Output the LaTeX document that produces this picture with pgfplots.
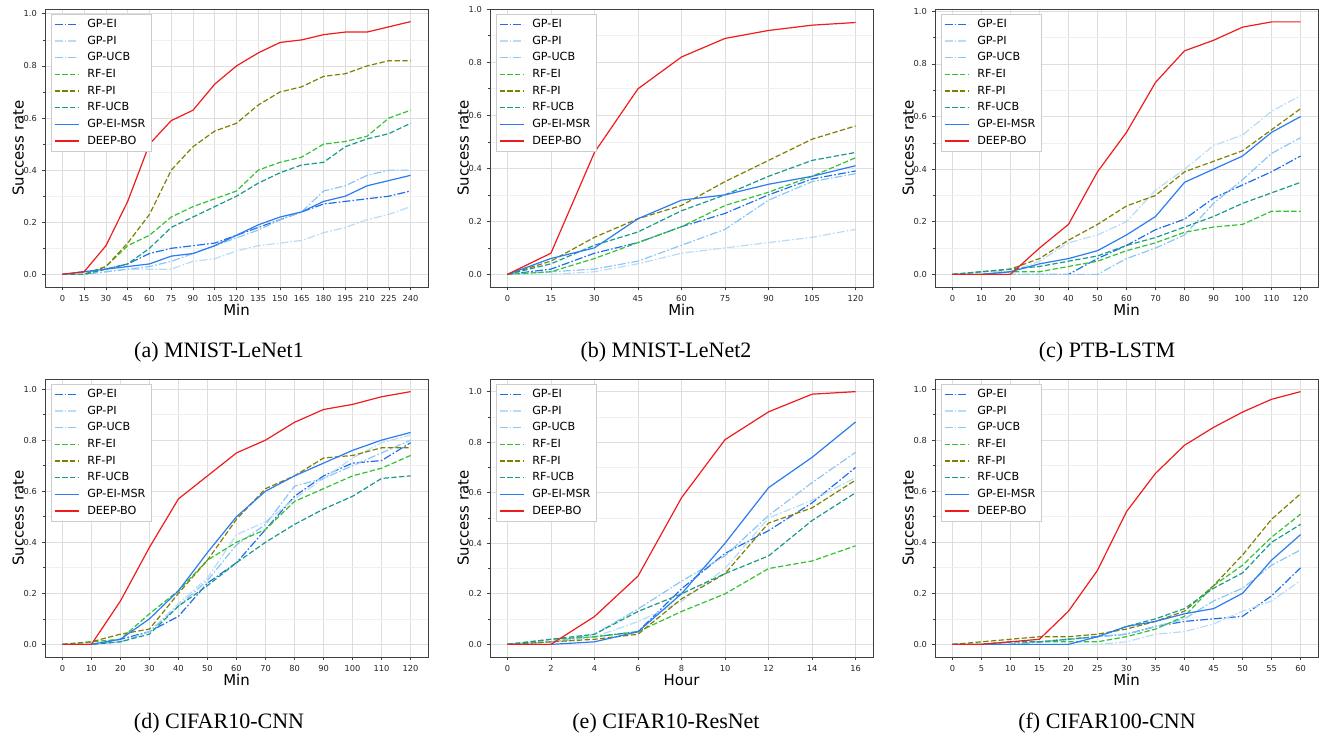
\documentclass[border=0pt]{standalone}
\usepackage{pgfplots}
\pgfplotsset{compat=1.18}
\usepackage{fontspec}
\setmainfont{Liberation Serif}
\setsansfont{DejaVu Sans}

\definecolor{cgpei}{HTML}{1F6FEB}
\definecolor{cgppi}{HTML}{B8DCF8}
\definecolor{cgpucb}{HTML}{8CC6F4}
\definecolor{crfei}{HTML}{33C233}
\definecolor{crfpi}{HTML}{808000}
\definecolor{crfucb}{HTML}{1A9A8A}
\definecolor{cmsr}{HTML}{2B7BF2}
\definecolor{cdeep}{HTML}{EE1C1C}

\pgfplotsset{
  legend image code/.code={\draw[#1, line width=1pt] (0pt,0pt) -- (18pt,0pt);},
  sub/.style={
    width=287.25pt, height=208.5pt, scale only axis,
    anchor=north west,
    axis line style={color=black!75, line width=0.6pt},
    tick style={color=black!75, line width=0.5pt},
    tick align=outside, xtick pos=lower, ytick pos=left,
    major tick length=2.6pt, minor tick length=1.5pt,
    ytick={0,0.2,0.4,0.6,0.8,1}, yticklabels={0.0,0.2,0.4,0.6,0.8,1.0},
    minor ytick={0.1,0.3,0.5,0.7,0.9},
    xmajorgrids, ymajorgrids, yminorgrids,
    major grid style={color=black!13, line width=0.6pt},
    minor grid style={color=black!6, line width=0.5pt},
    /pgf/number format/assume math mode=true,
    ticklabel style={font=\sffamily\fontsize{6.2}{7}\selectfont, color=black!85},
    label style={font=\sffamily\fontsize{11.2}{13}\selectfont},
    ylabel={Success rate}, xlabel={Min},
    xlabel style={at={(axis description cs:0.5,-0.083)}, anchor=center},
    ylabel style={at={(axis description cs:-0.07,0.5)}, anchor=center},
    legend style={at={(0,1)}, anchor=north west, xshift=4.5pt, yshift=-3.75pt,
      draw=black!20, fill=white,
      font=\sffamily\fontsize{8.4}{10}\selectfont,
      row sep=0.8pt, column sep=4pt, inner xsep=2pt, inner ysep=1.7pt},
    legend cell align=left,
    no markers,
  },
  gpei/.style={draw=cgpei, color=cgpei, line width=0.9pt, dash pattern=on 6pt off 1.6pt on 1.2pt off 1.6pt},
  gppi/.style={draw=cgppi, color=cgppi, line width=0.9pt, dash pattern=on 6pt off 1.6pt on 1.2pt off 1.6pt},
  gpucb/.style={draw=cgpucb, color=cgpucb, line width=0.9pt, dash pattern=on 6pt off 1.6pt on 1.2pt off 1.6pt},
  rfei/.style={draw=crfei, color=crfei, line width=0.9pt, dash pattern=on 4pt off 1.8pt},
  rfpi/.style={draw=crfpi, color=crfpi, line width=0.9pt, dash pattern=on 4pt off 1.8pt},
  rfucb/.style={draw=crfucb, color=crfucb, line width=0.9pt, dash pattern=on 4pt off 1.8pt},
  msr/.style={draw=cmsr, color=cmsr, line width=0.9pt},
  deep/.style={draw=cdeep, color=cdeep, line width=0.9pt},
}

\newcommand{\legendall}{%
  \addlegendentry{GP-EI}\addlegendentry{GP-PI}\addlegendentry{GP-UCB}%
  \addlegendentry{RF-EI}\addlegendentry{RF-PI}\addlegendentry{RF-UCB}%
  \addlegendentry{GP-EI-MSR}\addlegendentry{DEEP-BO}}

\begin{document}
\begin{tikzpicture}
\path (0pt,0pt) rectangle (996.75pt,-553.5pt);

% (a) MNIST-LeNet1
\begin{axis}[sub, at={(33.75pt,-6.75pt)},
  xmin=-12, xmax=252, ymin=-0.0485, ymax=1.0185,
  xtick={0,15,30,45,60,75,90,105,120,135,150,165,180,195,210,225,240}]
\addplot[gpei] coordinates {(0,0)(15,0.01)(30,0.02)(45,0.04)(60,0.08)(75,0.10)(90,0.11)(105,0.12)(120,0.15)(135,0.18)(150,0.21)(165,0.24)(180,0.27)(195,0.28)(210,0.29)(225,0.30)(240,0.32)};
\addplot[gppi] coordinates {(0,0)(15,0.00)(30,0.01)(45,0.02)(60,0.02)(75,0.02)(90,0.05)(105,0.06)(120,0.09)(135,0.11)(150,0.12)(165,0.13)(180,0.16)(195,0.18)(210,0.21)(225,0.23)(240,0.26)};
\addplot[gpucb] coordinates {(0,0)(15,0.00)(30,0.01)(45,0.02)(60,0.03)(75,0.05)(90,0.08)(105,0.11)(120,0.14)(135,0.17)(150,0.21)(165,0.24)(180,0.32)(195,0.34)(210,0.38)(225,0.40)(240,0.40)};
\addplot[rfei] coordinates {(0,0)(15,0.00)(30,0.03)(45,0.11)(60,0.15)(75,0.22)(90,0.26)(105,0.29)(120,0.32)(135,0.40)(150,0.43)(165,0.45)(180,0.50)(195,0.51)(210,0.53)(225,0.60)(240,0.63)};
\addplot[rfpi] coordinates {(0,0)(15,0.00)(30,0.03)(45,0.12)(60,0.23)(75,0.40)(90,0.49)(105,0.55)(120,0.58)(135,0.65)(150,0.70)(165,0.72)(180,0.76)(195,0.77)(210,0.80)(225,0.82)(240,0.82)};
\addplot[rfucb] coordinates {(0,0)(15,0.00)(30,0.02)(45,0.04)(60,0.10)(75,0.18)(90,0.22)(105,0.26)(120,0.30)(135,0.35)(150,0.39)(165,0.42)(180,0.43)(195,0.49)(210,0.52)(225,0.54)(240,0.58)};
\addplot[msr] coordinates {(0,0)(15,0.01)(30,0.02)(45,0.03)(60,0.04)(75,0.07)(90,0.08)(105,0.11)(120,0.15)(135,0.19)(150,0.22)(165,0.24)(180,0.28)(195,0.30)(210,0.34)(225,0.36)(240,0.38)};
\addplot[deep] coordinates {(0,0)(15,0.01)(30,0.11)(45,0.28)(60,0.50)(75,0.59)(90,0.63)(105,0.73)(120,0.80)(135,0.85)(150,0.89)(165,0.90)(180,0.92)(195,0.93)(210,0.93)(225,0.95)(240,0.97)};
\legendall
\end{axis}

% (b) MNIST-LeNet2
\begin{axis}[sub, at={(367.5pt,-6.75pt)},
  xmin=-6, xmax=126, ymin=-0.0475, ymax=1.001,
  xtick={0,15,30,45,60,75,90,105,120}]
\addplot[gpei] coordinates {(0,0)(15,0.02)(30,0.08)(45,0.12)(60,0.18)(75,0.23)(90,0.30)(105,0.36)(120,0.39)};
\addplot[gppi] coordinates {(0,0)(15,0.00)(30,0.01)(45,0.04)(60,0.08)(75,0.10)(90,0.12)(105,0.14)(120,0.17)};
\addplot[gpucb] coordinates {(0,0)(15,0.01)(30,0.02)(45,0.05)(60,0.11)(75,0.17)(90,0.28)(105,0.35)(120,0.38)};
\addplot[rfei] coordinates {(0,0)(15,0.01)(30,0.06)(45,0.12)(60,0.18)(75,0.26)(90,0.31)(105,0.37)(120,0.44)};
\addplot[rfpi] coordinates {(0,0)(15,0.05)(30,0.14)(45,0.21)(60,0.26)(75,0.35)(90,0.43)(105,0.51)(120,0.56)};
\addplot[rfucb] coordinates {(0,0)(15,0.04)(30,0.11)(45,0.16)(60,0.24)(75,0.30)(90,0.37)(105,0.43)(120,0.46)};
\addplot[msr] coordinates {(0,0)(15,0.06)(30,0.10)(45,0.21)(60,0.28)(75,0.30)(90,0.34)(105,0.37)(120,0.41)};
\addplot[deep] coordinates {(0,0)(15,0.08)(30,0.46)(45,0.70)(60,0.82)(75,0.89)(90,0.92)(105,0.94)(120,0.95)};
\legendall
\end{axis}

% (c) PTB-LSTM
\begin{axis}[sub, at={(701.25pt,-6.75pt)},
  xmin=-6, xmax=126, ymin=-0.048, ymax=1.009,
  xtick={0,10,20,30,40,50,60,70,80,90,100,110,120}]
\addplot[gpei] coordinates {(0,0)(10,0)(20,0)(30,0)(40,0)(50,0.06)(60,0.11)(70,0.17)(80,0.21)(90,0.29)(100,0.34)(110,0.39)(120,0.45)};
\addplot[gppi] coordinates {(0,0)(10,0.01)(20,0.01)(30,0.05)(40,0.12)(50,0.15)(60,0.20)(70,0.32)(80,0.40)(90,0.49)(100,0.53)(110,0.62)(120,0.68)};
\addplot[gpucb] coordinates {(0,0)(10,0)(20,0)(30,0)(40,0)(50,0)(60,0.06)(70,0.10)(80,0.15)(90,0.27)(100,0.36)(110,0.46)(120,0.52)};
\addplot[rfei] coordinates {(0,0)(10,0)(20,0.01)(30,0.01)(40,0.03)(50,0.05)(60,0.09)(70,0.12)(80,0.16)(90,0.18)(100,0.19)(110,0.24)(120,0.24)};
\addplot[rfpi] coordinates {(0,0)(10,0.01)(20,0.02)(30,0.06)(40,0.13)(50,0.19)(60,0.26)(70,0.30)(80,0.39)(90,0.43)(100,0.47)(110,0.55)(120,0.63)};
\addplot[rfucb] coordinates {(0,0)(10,0.01)(20,0.02)(30,0.03)(40,0.05)(50,0.07)(60,0.11)(70,0.14)(80,0.18)(90,0.22)(100,0.27)(110,0.31)(120,0.35)};
\addplot[msr] coordinates {(0,0)(10,0)(20,0.01)(30,0.04)(40,0.06)(50,0.09)(60,0.15)(70,0.22)(80,0.35)(90,0.40)(100,0.45)(110,0.54)(120,0.60)};
\addplot[deep] coordinates {(0,0)(10,0)(20,0)(30,0.10)(40,0.19)(50,0.39)(60,0.54)(70,0.73)(80,0.85)(90,0.89)(100,0.94)(110,0.96)(120,0.96)};
\legendall
\end{axis}

% (d) CIFAR10-CNN
\begin{axis}[sub, at={(33.75pt,-284.25pt)},
  xmin=-6, xmax=126, ymin=-0.0495, ymax=1.0395,
  xtick={0,10,20,30,40,50,60,70,80,90,100,110,120}]
\addplot[gpei] coordinates {(0,0)(10,0)(20,0.02)(30,0.05)(40,0.11)(50,0.24)(60,0.32)(70,0.45)(80,0.58)(90,0.66)(100,0.71)(110,0.72)(120,0.79)};
\addplot[gppi] coordinates {(0,0)(10,0)(20,0.01)(30,0.05)(40,0.16)(50,0.26)(60,0.43)(70,0.48)(80,0.57)(90,0.65)(100,0.73)(110,0.79)(120,0.82)};
\addplot[gpucb] coordinates {(0,0)(10,0)(20,0.01)(30,0.05)(40,0.15)(50,0.25)(60,0.39)(70,0.47)(80,0.62)(90,0.65)(100,0.70)(110,0.75)(120,0.80)};
\addplot[rfei] coordinates {(0,0)(10,0.01)(20,0.02)(30,0.12)(40,0.21)(50,0.33)(60,0.40)(70,0.45)(80,0.56)(90,0.61)(100,0.66)(110,0.69)(120,0.74)};
\addplot[rfpi] coordinates {(0,0)(10,0.01)(20,0.04)(30,0.06)(40,0.20)(50,0.33)(60,0.49)(70,0.61)(80,0.66)(90,0.73)(100,0.74)(110,0.77)(120,0.77)};
\addplot[rfucb] coordinates {(0,0)(10,0.00)(20,0.01)(30,0.04)(40,0.15)(50,0.23)(60,0.32)(70,0.40)(80,0.47)(90,0.53)(100,0.58)(110,0.65)(120,0.66)};
\addplot[msr] coordinates {(0,0)(10,0)(20,0.02)(30,0.10)(40,0.21)(50,0.36)(60,0.50)(70,0.60)(80,0.66)(90,0.71)(100,0.76)(110,0.80)(120,0.83)};
\addplot[deep] coordinates {(0,0)(10,0)(20,0.17)(30,0.38)(40,0.57)(50,0.66)(60,0.75)(70,0.80)(80,0.87)(90,0.92)(100,0.94)(110,0.97)(120,0.99)};
\legendall
\end{axis}

% (e) CIFAR10-ResNet
\begin{axis}[sub, at={(367.5pt,-284.25pt)},
  xmin=-0.8, xmax=16.8, ymin=-0.05, ymax=1.05, xlabel={Hour},
  xtick={0,2,4,6,8,10,12,14,16}]
\addplot[gpei] coordinates {(0,0)(2,0.01)(4,0.03)(6,0.05)(8,0.22)(10,0.36)(12,0.45)(14,0.56)(16,0.70)};
\addplot[gppi] coordinates {(0,0)(2,0.01)(4,0.03)(6,0.09)(8,0.17)(10,0.30)(12,0.50)(14,0.57)(16,0.66)};
\addplot[gpucb] coordinates {(0,0)(2,0.01)(4,0.04)(6,0.14)(8,0.25)(10,0.35)(12,0.51)(14,0.64)(16,0.76)};
\addplot[rfei] coordinates {(0,0)(2,0.02)(4,0.03)(6,0.05)(8,0.13)(10,0.20)(12,0.30)(14,0.33)(16,0.39)};
\addplot[rfpi] coordinates {(0,0)(2,0.01)(4,0.02)(6,0.04)(8,0.18)(10,0.28)(12,0.48)(14,0.54)(16,0.65)};
\addplot[rfucb] coordinates {(0,0)(2,0.02)(4,0.04)(6,0.13)(8,0.20)(10,0.28)(12,0.35)(14,0.49)(16,0.60)};
\addplot[msr] coordinates {(0,0)(2,0)(4,0.01)(6,0.05)(8,0.20)(10,0.40)(12,0.62)(14,0.74)(16,0.88)};
\addplot[deep] coordinates {(0,0)(2,0)(4,0.11)(6,0.27)(8,0.58)(10,0.81)(12,0.92)(14,0.99)(16,1.00)};
\legendall
\end{axis}

% (f) CIFAR100-CNN
\begin{axis}[sub, at={(701.25pt,-284.25pt)},
  xmin=-3, xmax=63, ymin=-0.0495, ymax=1.0395,
  xtick={0,5,10,15,20,25,30,35,40,45,50,55,60}]
\addplot[gpei] coordinates {(0,0)(5,0)(10,0)(15,0.01)(20,0.02)(25,0.03)(30,0.04)(35,0.07)(40,0.09)(45,0.10)(50,0.11)(55,0.19)(60,0.30)};
\addplot[gppi] coordinates {(0,0)(5,0)(10,0)(15,0)(20,0)(25,0)(30,0.01)(35,0.04)(40,0.05)(45,0.08)(50,0.13)(55,0.17)(60,0.25)};
\addplot[gpucb] coordinates {(0,0)(5,0)(10,0)(15,0.01)(20,0.02)(25,0.03)(30,0.04)(35,0.07)(40,0.10)(45,0.17)(50,0.22)(55,0.31)(60,0.37)};
\addplot[rfei] coordinates {(0,0)(5,0)(10,0.01)(15,0.01)(20,0.01)(25,0.01)(30,0.03)(35,0.06)(40,0.11)(45,0.23)(50,0.31)(55,0.42)(60,0.51)};
\addplot[rfpi] coordinates {(0,0)(5,0.01)(10,0.02)(15,0.03)(20,0.03)(25,0.04)(30,0.06)(35,0.09)(40,0.13)(45,0.23)(50,0.35)(55,0.49)(60,0.59)};
\addplot[rfucb] coordinates {(0,0)(5,0)(10,0.01)(15,0.01)(20,0.02)(25,0.03)(30,0.07)(35,0.10)(40,0.14)(45,0.22)(50,0.28)(55,0.40)(60,0.47)};
\addplot[msr] coordinates {(0,0)(5,0)(10,0)(15,0)(20,0)(25,0.03)(30,0.07)(35,0.09)(40,0.12)(45,0.14)(50,0.20)(55,0.33)(60,0.43)};
\addplot[deep] coordinates {(0,0)(5,0)(10,0.01)(15,0.02)(20,0.13)(25,0.29)(30,0.52)(35,0.67)(40,0.78)(45,0.85)(50,0.91)(55,0.96)(60,0.99)};
\legendall
\end{axis}

\begin{scope}[font=\fontsize{16.5}{19}\selectfont]
\node at (164.25pt,-264pt) {(a) MNIST-LeNet1};
\node at (499.5pt,-264pt) {(b) MNIST-LeNet2};
\node at (830.25pt,-264pt) {(c) PTB-LSTM};
\node at (164.25pt,-542.25pt) {(d) CIFAR10-CNN};
\node at (499.5pt,-542.25pt) {(e) CIFAR10-ResNet};
\node at (830.25pt,-542.25pt) {(f) CIFAR100-CNN};
\end{scope}
\end{tikzpicture}
\end{document}
